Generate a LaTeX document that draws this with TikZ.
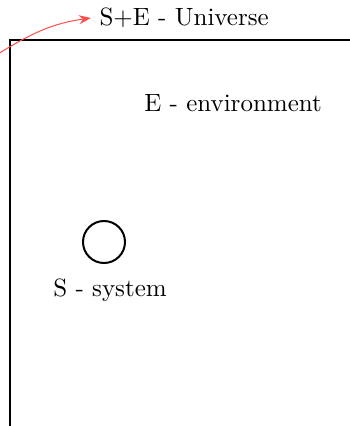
\documentclass[tikz,border=0pt]{standalone}
\usepackage{tikz}
\usetikzlibrary{positioning,arrows.meta}
\definecolor{ink}{HTML}{000000}
\colorlet{pointer}{red!70}
\tikzset{
  >=Stealth,
  every node/.style={font=\normalsize},
  % --- nodes
  lbl/.style    = {inner sep=0pt, text=ink},
  sysdisk/.style= {circle, draw=ink, line width=0.8pt, minimum size=42*0.4pt, inner sep=0pt},
  % --- edges
  wall/.style   = {draw=ink, line width=0.8pt},
  ptr/.style    = {->, draw=pointer, line width=0.4pt},
}
\begin{document}
\begin{tikzpicture}[x=0.4pt,y=0.4pt]
  \useasboundingbox (0,0) rectangle (350,426);
  \clip (0,0) rectangle (350,426);

  % universe boundary (only top and left edges show)
  \draw[wall] (10,-10) -- (10,386) -- (360,386);

  \node[lbl,anchor=west] (univ) at (99,408) {S+E - Universe};
  \node[lbl] (env) at (233,323) {E - environment};

  \node[sysdisk] (sys) at (104,184) {};
  \node[lbl,below=14*0.4pt of sys,xshift=6*0.4pt] (syslbl) {S - system};

  \coordinate (tail) at (-2,372);
  \draw[ptr] (tail) to[out=32,in=188] ([xshift=-8*0.4pt]univ.west);
\end{tikzpicture}
\end{document}
